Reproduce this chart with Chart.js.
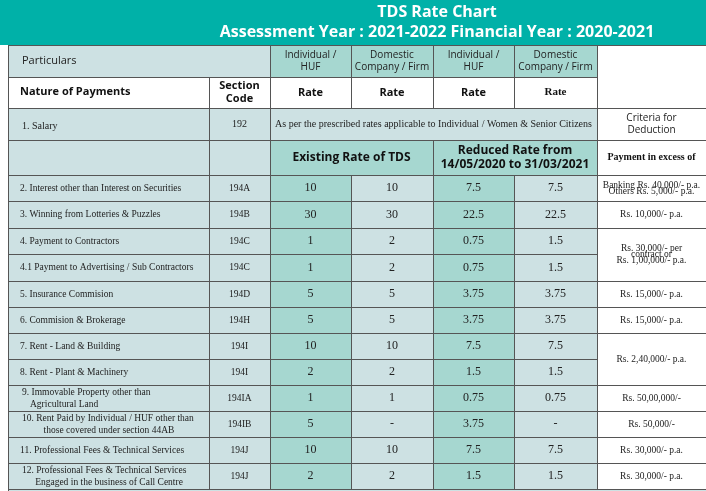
<!DOCTYPE html>
<html lang="en">
<head>
<meta charset="UTF-8">
<title>TDS Rate Chart</title>
<script src="https://cdn.jsdelivr.net/npm/chart.js"></script>
<style>
  body { margin: 0; background: #fff; }
  #box { width: 706px; height: 491px; }
</style>
</head>
<body>
<div id="box"><canvas id="tds"></canvas></div>
<script>
// data
const titulo = ['TDS Rate Chart', 'Assessment Year : 2021-2022 Financial Year : 2020-2021'];
const pagamentos = [
  ['2. Interest other than Interest on Securities'],
  ['3. Winning from Lotteries & Puzzles'],
  ['4. Payment to Contractors'],
  ['4.1 Payment to Advertising / Sub Contractors'],
  ['5. Insurance Commision'],
  ['6. Commision & Brokerage'],
  ['7. Rent - Land & Building'],
  ['8. Rent - Plant & Machinery'],
  ['9. Immovable Property other than', 'Agricultural Land'],
  ['10. Rent Paid by Individual / HUF other than', 'those covered under section 44AB'],
  ['11. Professional Fees & Technical Services'],
  ['12. Professional Fees & Technical Services', 'Engaged in the business of Call Centre']
];
const secoes = ['194A', '194B', '194C', '194C', '194D', '194H', '194I', '194I', '194IA', '194IB', '194J', '194J'];
const existenteInd = ['10', '30', '1', '1', '5', '5', '10', '2', '1', '5', '10', '2'];
const existenteEmp = ['10', '30', '2', '2', '5', '5', '10', '2', '1', '-', '10', '2'];
const reduzidaInd = ['7.5', '22.5', '0.75', '0.75', '3.75', '3.75', '7.5', '1.5', '0.75', '3.75', '7.5', '1.5'];
const reduzidaEmp = ['7.5', '22.5', '1.5', '1.5', '3.75', '3.75', '7.5', '1.5', '0.75', '-', '7.5', '1.5'];
// criterio: [linha inicial, linhas ocupadas, texto]
const criterios = [
  [0, 1, ['Banking Rs. 40,000/- p.a.', 'Others Rs. 5,000/- p.a.']],
  [1, 1, ['Rs. 10,000/- p.a.']],
  [2, 2, ['Rs. 30,000/- per', 'contract or', 'Rs. 1,00,000/- p.a.']],
  [4, 1, ['Rs. 15,000/- p.a.']],
  [5, 1, ['Rs. 15,000/- p.a.']],
  [6, 2, ['Rs. 2,40,000/- p.a.']],
  [8, 1, ['Rs. 50,00,000/-']],
  [9, 1, ['Rs. 50,000/-']],
  [10, 1, ['Rs. 30,000/- p.a.']],
  [11, 1, ['Rs. 30,000/- p.a.']]
];

// grid (page units)
const colX = [8, 209, 270, 351, 433, 514, 597, 706];
const linhaY = [175, 201, 228, 254, 281, 307, 333, 359, 385, 411, 437, 463, 489];
const CLARO = '#cde1e3', TEAL = '#a6d7d0', TOPO = '#00b1a8', LINHA = '#555';
const SANS = '"Open Sans", "Noto Sans", sans-serif';
const SERIF = '"Liberation Serif", "DejaVu Serif", serif';

const tabela = {
  id: 'tabela',
  afterDraw(chart) {
    const ctx = chart.ctx, sx = chart.scales.x, sy = chart.scales.y;
    const X = v => sx.getPixelForValue(v), Y = v => sy.getPixelForValue(v);
    function cell(x0, y0, x1, y1, fill, lines, font, color) {
      const a = X(x0), b = Y(y0), w = X(x1) - a, h = Y(y1) - b;
      if (fill) { ctx.fillStyle = fill; ctx.fillRect(a, b, w, h); }
      ctx.strokeStyle = LINHA; ctx.lineWidth = 1;
      ctx.strokeRect(a + 0.5, b + 0.5, w, h);
      if (lines) text(lines, (x0 + x1) / 2, (y0 + y1) / 2, font, color, 'center');
    }
    function text(lines, cx, cy, font, color, align) {
      ctx.font = font; ctx.fillStyle = color || '#111';
      ctx.textAlign = align; ctx.textBaseline = 'middle';
      const lh = parseInt(font.match(/(\d+)px/)[1]) * 1.2;
      lines.forEach((l, i) => ctx.fillText(l, X(cx), Y(cy + (i - (lines.length - 1) / 2) * lh)));
    }
    // title
    ctx.fillStyle = TOPO; ctx.fillRect(X(0), Y(0), X(706) - X(0), Y(45) - Y(0));
    text([titulo[0]], 437, 12, 'bold 16px ' + SANS, '#fff', 'center');
    text([titulo[1]], 437, 32, 'bold 16px ' + SANS, '#fff', 'center');
    ctx.fillStyle = '#fff'; ctx.fillRect(X(0), Y(45), X(8) - X(0), Y(491) - Y(45));
    ctx.strokeStyle = LINHA; ctx.beginPath(); ctx.moveTo(X(8) + 0.5, Y(45)); ctx.lineTo(X(8) + 0.5, Y(491)); ctx.stroke();
    // header rows
    cell(8, 45, 270, 77, CLARO);
    text(['Particulars'], 22, 61, '11px ' + SANS, '#222', 'left');
    const tipos = [['Individual /', 'HUF'], ['Domestic', 'Company / Firm']];
    for (let c = 2; c < 6; c++) cell(colX[c], 45, colX[c + 1], 77, TEAL, tipos[c % 2], '10px ' + SANS, '#222');
    cell(597, 45, 706, 108, '#fff');
    cell(8, 77, 209, 108, '#fff');
    text(['Nature of Payments'], 20, 92, 'bold 11px ' + SANS, '#111', 'left');
    cell(209, 77, 270, 108, '#fff', ['Section', 'Code'], 'bold 11px ' + SANS);
    for (let c = 2; c < 6; c++) cell(colX[c], 77, colX[c + 1], 108, '#fff', ['Rate'],
      c === 5 ? 'bold 11px ' + SERIF : 'bold 11px ' + SANS);
    // salary
    cell(8, 108, 209, 140, CLARO);
    text(['1. Salary'], 22, 126, '10px ' + SERIF, '#222', 'left');
    cell(209, 108, 270, 140, CLARO, ['192'], '10px ' + SERIF, '#222');
    cell(270, 108, 597, 140, CLARO, ['As per the prescribed rates applicable to Individual / Women & Senior Citizens'], '10px ' + SERIF, '#222');
    cell(597, 108, 706, 140, '#fff', ['Criteria for', 'Deduction'], '10px ' + SANS, '#222');
    // group header
    cell(8, 140, 209, 175, CLARO);
    cell(209, 140, 270, 175, CLARO);
    cell(270, 140, 433, 175, TEAL, ['Existing Rate of TDS'], 'bold 12px ' + SANS);
    cell(433, 140, 597, 175, TEAL, ['Reduced Rate from', '14/05/2020 to 31/03/2021'], 'bold 12px ' + SANS);
    cell(597, 140, 706, 175, '#fff', ['Payment in excess of'], 'bold 10px ' + SERIF);
    // body
    const series = [existenteInd, existenteEmp, reduzidaInd, reduzidaEmp];
    pagamentos.forEach((nome, i) => {
      const y0 = linhaY[i], y1 = linhaY[i + 1];
      cell(8, y0, 209, y1, CLARO);
      const ind = nome.length > 1 && i === 8 ? 0 : 0;
      ctx.save();
      if (nome.length === 1) text(nome, 20, (y0 + y1) / 2, '9.5px ' + SERIF, '#222', 'left');
      else { text([nome[0]], 22, (y0 + y1) / 2 - 6, '9.5px ' + SERIF, '#222', 'left');
             text([nome[1]], i === 8 ? 30 : 109, (y0 + y1) / 2 + 6, '9.5px ' + SERIF, '#222', i === 8 ? 'left' : 'center'); }
      ctx.restore();
      cell(209, y0, 270, y1, CLARO, [secoes[i]], '9.5px ' + SERIF, '#222');
      series.forEach((s, k) => cell(colX[k + 2], y0, colX[k + 3], y1, k % 2 === 0 ? TEAL : CLARO, [s[i]], '12px ' + SERIF, '#222'));
    });
    criterios.forEach(([r, n, t]) => cell(597, linhaY[r], 706, linhaY[r + n], '#fff', t, '9.5px ' + SERIF, '#222'));
    cell(8, 489, 706, 495, CLARO);
  }
};

new Chart(document.getElementById('tds'), {
  type: 'scatter',
  data: { datasets: [{ data: [], pointRadius: 0 }] },
  options: {
    responsive: true, maintainAspectRatio: false, animation: false,
    layout: { padding: 0 },
    plugins: { legend: { display: false }, tooltip: { enabled: false } },
    scales: {
      x: { type: 'linear', min: 0, max: 706, display: false },
      y: { type: 'linear', min: 0, max: 491, reverse: true, display: false }
    }
  },
  plugins: [tabela]
});
</script>
</body>
</html>
